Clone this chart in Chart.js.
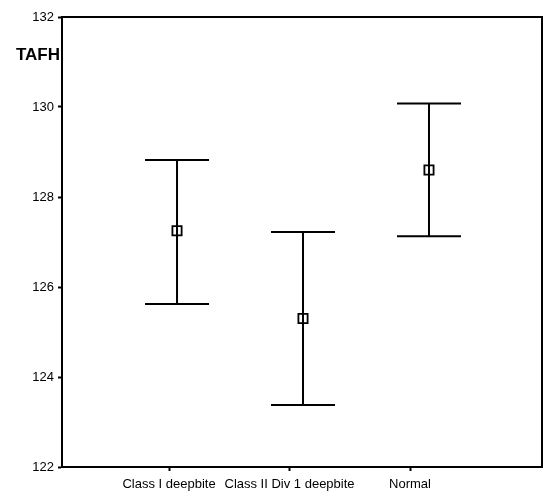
<!DOCTYPE html>
<html>
<head>
<meta charset="utf-8">
<script src="https://cdn.jsdelivr.net/npm/chart.js@4.4.1/dist/chart.umd.min.js"></script>
<style>
  html, body { margin: 0; padding: 0; background: #fff; }
  #wrap { width: 544px; height: 500px; }
</style>
</head>
<body>
<div id="wrap"><canvas id="tafhChart" width="544" height="500"></canvas></div>
<script>
// valori
const categories = ['Class I deepbite', 'Class II Div 1 deepbite', 'Normal'];
const groupX = [1, 2, 3];
const means = [127.25, 125.30, 128.60];
const upper = [128.82, 127.22, 130.08];
const lower = [125.62, 123.38, 127.13];
const yTicks = [122, 124, 126, 128, 130, 132];
const yTitle = 'TAFH';

const FONT = '"Liberation Sans", Arial, sans-serif';

// barre di errore disegnate con le scale del grafico
const errorBars = {
    id: 'errorBars',
    beforeDatasetsDraw(chart) {
        const { ctx, scales: { x, y } } = chart;
        ctx.save();
        ctx.strokeStyle = '#000';
        ctx.lineWidth = 2;
        groupX.forEach((gx, i) => {
            const px = x.getPixelForValue(gx);
            const top = y.getPixelForValue(upper[i]);
            const bot = y.getPixelForValue(lower[i]);
            ctx.beginPath();
            ctx.moveTo(px, top);
            ctx.lineTo(px, bot);
            ctx.moveTo(px - 32, top);
            ctx.lineTo(px + 32, top);
            ctx.moveTo(px - 32, bot);
            ctx.lineTo(px + 32, bot);
            ctx.stroke();
        });
        ctx.restore();
    }
};

// cornice + titolo asse y
const frame = {
    id: 'frame',
    afterDraw(chart) {
        const { ctx, chartArea: a } = chart;
        ctx.save();
        ctx.strokeStyle = '#000';
        ctx.lineWidth = 2;
        ctx.beginPath();
        ctx.moveTo(a.left, a.top);
        ctx.lineTo(a.right, a.top);
        ctx.lineTo(a.right, a.bottom);
        ctx.stroke();
        ctx.fillStyle = '#000';
        ctx.font = 'bold 17px ' + FONT;
        ctx.textAlign = 'right';
        ctx.textBaseline = 'middle';
        ctx.fillText(yTitle, a.left - 2, a.top + 38);
        ctx.restore();
    }
};

const ctx = document.getElementById('tafhChart').getContext('2d');

new Chart(ctx, {
    type: 'scatter',
    data: {
        datasets: [{
            data: groupX.map((gx, i) => ({ x: gx, y: means[i] })),
            pointStyle: 'rect',
            pointRadius: 6.5,
            pointHoverRadius: 6.5,
            borderColor: '#000',
            backgroundColor: 'rgba(0,0,0,0)',
            borderWidth: 1.8,
            showLine: false
        }]
    },
    options: {
        responsive: false,
        animation: false,
        layout: { autoPadding: false, padding: { top: 17, right: 2, left: 0, bottom: 0 } },
        plugins: {
            legend: { display: false },
            tooltip: { enabled: false }
        },
        scales: {
            x: {
                type: 'linear',
                display: false,
                min: 0.087,
                max: 3.897
            },
            xl: {
                type: 'linear',
                position: 'bottom',
                min: 0.112,
                max: 4.095,
                afterBuildTicks(scale) {
                    scale.ticks = groupX.map(v => ({ value: v }));
                },
                afterFit(scale) { scale.height = 33; },
                ticks: {
                    autoSkip: false,
                    maxRotation: 0,
                    color: '#000',
                    padding: 6,
                    font: { family: FONT, size: 13 },
                    callback: (v, i) => categories[i]
                },
                grid: {
                    drawOnChartArea: false,
                    drawTicks: true,
                    tickLength: 4,
                    tickWidth: 2,
                    color: '#000'
                },
                border: { display: true, color: '#000', width: 2 }
            },
            y: {
                type: 'linear',
                min: 122,
                max: 132,
                afterBuildTicks(scale) {
                    scale.ticks = yTicks.map(v => ({ value: v }));
                },
                afterFit(scale) { scale.width = 62; },
                ticks: {
                    color: '#000',
                    padding: 4,
                    font: { family: FONT, size: 13 }
                },
                grid: {
                    drawOnChartArea: false,
                    drawTicks: true,
                    tickLength: 4,
                    tickWidth: 2,
                    color: '#000'
                },
                border: { display: true, color: '#000', width: 2 }
            }
        }
    },
    plugins: [errorBars, frame]
});
</script>
</body>
</html>
